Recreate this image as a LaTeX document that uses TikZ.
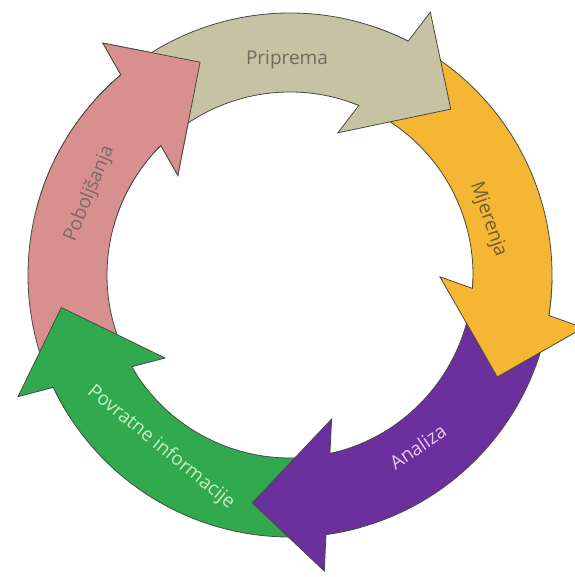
\documentclass[tikz,border=0pt]{standalone}
\usepackage{fontspec}
\setmainfont{Open Sans}
\definecolor{prepCol}{HTML}{C6C2A3}
\definecolor{prepText}{HTML}{6E6C60}
\definecolor{measCol}{HTML}{F4B633}
\definecolor{measText}{HTML}{6F5E35}
\definecolor{anaCol}{HTML}{6B2F9E}
\definecolor{anaText}{HTML}{E6C8F2}
\definecolor{fbCol}{HTML}{30A94F}
\definecolor{fbText}{HTML}{C8F0C2}
\definecolor{impCol}{HTML}{D8908F}
\definecolor{impText}{HTML}{7A6767}
\definecolor{edgeCol}{HTML}{4A4A44}
\tikzset{
  arrowshape/.style={draw=edgeCol, line width=0.8pt},
  labelstyle/.style={inner sep=0pt, text height=13.5pt, text depth=0pt,
    font=\fontsize{19}{23}\selectfont, anchor=center}
}
% #1 colour, #2 tail angle, #3 tip angle
\newcommand{\cyclearrow}[3]{%
  \filldraw[arrowshape, fill=#1] (#2:262pt) arc[start angle=#2, end angle={#3+17.3}, radius=262pt]
    -- ({#3+16}:298pt) -- (#3:231pt) -- ({#3+25.5}:150pt) -- ({#3+22}:183pt)
    arc[start angle={#3+22}, end angle=#2, radius=183pt] -- cycle;}
\begin{document}
\begin{tikzpicture}[x=1pt,y=1pt]
\useasboundingbox (0,0) rectangle (574,577);
\begin{scope}[shift={(290,302)}]
  \cyclearrow{impCol}{213.1}{112.9}
  \cyclearrow{fbCol}{-74.4}{-171.9}
  \cyclearrow{anaCol}{-1.2}{-99.4}
  \cyclearrow{measCol}{70.9}{-26.2}
  \cyclearrow{prepCol}{137.9}{45.9}
  \begin{scope}
    \clip (0,0) -- (95:340pt) arc[start angle=95, end angle=165, radius=340pt] -- cycle;
    \cyclearrow{impCol}{213.1}{112.9}
  \end{scope}
\end{scope}
\node[labelstyle, text=prepText] (prep) at (287,519.5) {Priprema};
\node[labelstyle, text=measText, rotate=-70.7] (meas) at (490,358) {Mjerenja};
\node[labelstyle, text=anaText, rotate=34.3] (ana) at (418,130) {Analiza};
\node[labelstyle, text=fbText, rotate=-39.3] (fb) at (162,131) {Povratne informacije};
\node[labelstyle, text=impText, rotate=67.6] (imp) at (88,384) {Poboljšanja};
\end{tikzpicture}
\end{document}
